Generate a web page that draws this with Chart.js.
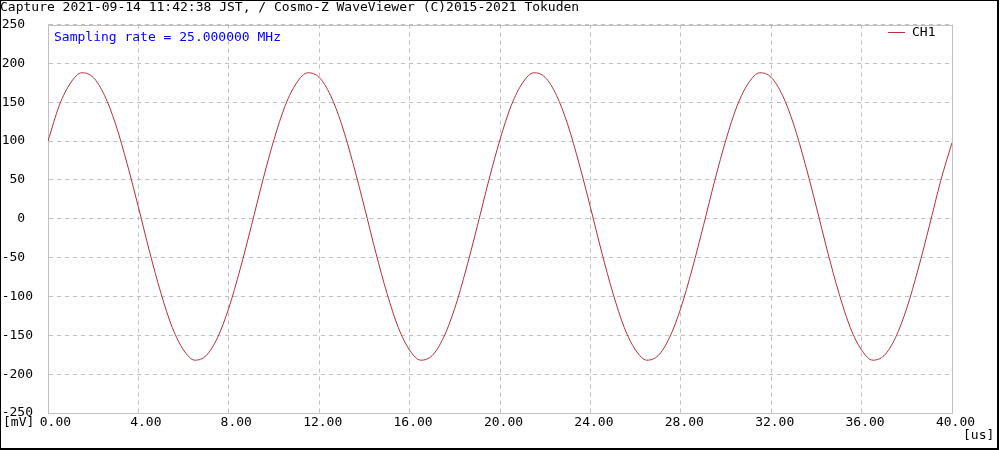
<!DOCTYPE html>
<html>
<head>
<meta charset="utf-8">
<script src="https://cdn.jsdelivr.net/npm/chart.js@4/dist/chart.umd.min.js"></script>
<style>
  body { margin: 0; background: #fff; }
  canvas { display: block; }
</style>
</head>
<body>
<canvas id="wave" width="1000" height="450"></canvas>
<script>
// capture info
const titleText = "Capture 2021-09-14 11:42:38 JST, / Cosmo-Z WaveViewer (C)2015-2021 Tokuden";
const samplingText = "Sampling rate = 25.000000 MHz";
const seriesName = "CH1";

// time axis [us], one reading every 0.5 us
const times = [];
for (let i = 0; i <= 80; i++) times.push(i * 0.5);

// CH1 values [mV]
const ch1 = [
  100, 146, 175, 188, 182, 159, 121, 71, 15, -43, -96, -140, -169, -182, -176, -153, -115, -65, -9, 49,
  102, 146, 175, 188, 182, 159, 121, 71, 15, -43, -96, -140, -169, -182, -176, -153, -115, -65, -9, 49,
  102, 146, 175, 188, 182, 159, 121, 71, 15, -43, -96, -140, -169, -182, -176, -153, -115, -65, -9, 49,
  102, 146, 175, 188, 182, 159, 121, 71, 15, -43, -96, -140, -169, -182, -176, -153, -115, -65, -9, 49,
  98
];

const xMin = 0, xMax = 40, xStep = 4;
const yMin = -250, yMax = 250, yStep = 50;

const mono = "'DejaVu Sans Mono', 'Liberation Mono', monospace";
const gridGrey = "#c0c0c0";
const lineRed = "#b5303a";

const points = times.map((t, i) => ({ x: t, y: ch1[i] }));

// extra bits: plot frame, outer frame, unit labels, sampling note, legend
const decor = {
  id: "decor",
  beforeDraw(chart) {
    const c = chart.ctx;
    c.save();
    c.fillStyle = "#fff";
    c.fillRect(0, 0, chart.width, chart.height);
    c.restore();
  },
  beforeDatasetsDraw(chart) {
    const c = chart.ctx, a = chart.chartArea;
    c.save();
    c.strokeStyle = gridGrey;
    c.lineWidth = 1;
    c.setLineDash([]);
    c.strokeRect(Math.round(a.left) + 0.5, Math.round(a.top) + 0.5,
      Math.round(a.right - a.left), Math.round(a.bottom - a.top));
    c.restore();
  },
  afterDraw(chart) {
    const c = chart.ctx;
    c.save();
    c.font = "13px " + mono;
    c.textBaseline = "middle";
    c.textAlign = "left";
    c.fillStyle = "#0000ff";
    c.fillText(samplingText, 54, 38);
    c.fillStyle = "#000";
    c.fillText("[mV]", 3, 423);
    c.fillText("[us]", 963, 436);
    // legend
    c.strokeStyle = lineRed;
    c.lineWidth = 1;
    c.beginPath();
    c.moveTo(888, 32.5);
    c.lineTo(905, 32.5);
    c.stroke();
    c.fillText(chart.data.datasets[0].label, 912, 33);
    // outer frame
    c.strokeStyle = "#000";
    c.lineWidth = 2;
    c.strokeRect(0, 0, 998, 449);
    c.restore();
  }
};

new Chart(document.getElementById("wave"), {
  type: "line",
  data: {
    datasets: [{
      label: seriesName,
      data: points,
      borderColor: lineRed,
      backgroundColor: lineRed,
      borderWidth: 1,
      pointRadius: 0,
      cubicInterpolationMode: "monotone",
      fill: false
    }]
  },
  options: {
    responsive: false,
    devicePixelRatio: 1,
    animation: false,
    layout: { padding: { left: 0, top: 0, right: 48, bottom: 0 } },
    scales: {
      x: {
        type: "linear",
        min: xMin, max: xMax,
        afterFit(s) { s.height = 37; },
        grid: { color: gridGrey, drawTicks: false },
        border: { color: gridGrey, dash: [4, 4] },
        ticks: {
          stepSize: xStep,
          autoSkip: false,
          maxRotation: 0,
          padding: 2,
          labelOffset: 3.5,
          color: "#000",
          font: { family: mono, size: 13 },
          callback: v => v.toFixed(2).padStart(5)
        }
      },
      y: {
        min: yMin, max: yMax,
        afterFit(s) { s.width = 48; },
        grid: { color: gridGrey, drawTicks: false },
        border: { color: gridGrey, dash: [4, 4] },
        ticks: {
          stepSize: yStep,
          padding: 15,
          color: "#000",
          font: { family: mono, size: 13 },
          // short labels end one character left of the long ones
          callback: v => { const s = String(v); return s.length >= 4 ? s : s + " "; }
        }
      }
    },
    plugins: {
      title: {
        display: true,
        text: titleText,
        align: "start",
        color: "#000",
        font: { family: mono, size: 13, weight: "normal" },
        padding: { top: 0, bottom: 9 }
      },
      legend: { display: false },
      tooltip: { enabled: false }
    }
  },
  plugins: [decor]
});
</script>
</body>
</html>
